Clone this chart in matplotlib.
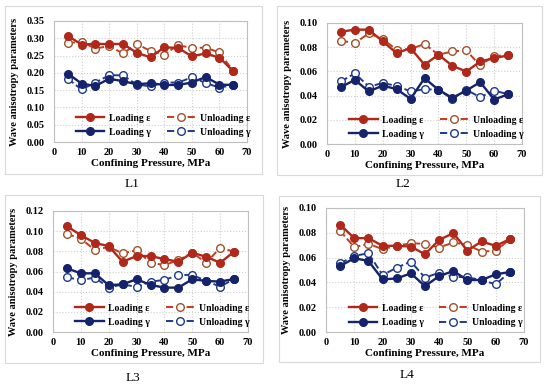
import matplotlib
matplotlib.use("Agg")
import matplotlib.pyplot as plt
from matplotlib.patches import Rectangle

plt.rcParams['font.family'] = ['Liberation Serif', 'DejaVu Serif']

pressure = [5, 10, 15, 20, 25, 30, 35, 40, 45, 50, 55, 60, 65]

L1_load_eps = [0.307, 0.282, 0.284, 0.283, 0.284, 0.258, 0.245, 0.274, 0.272, 0.248, 0.256, 0.244, 0.205]
L1_unload_eps = [0.286, 0.290, 0.270, 0.278, 0.256, 0.284, 0.263, 0.253, 0.280, 0.272, 0.273, 0.259, 0.205]
L1_load_gam = [0.198, 0.169, 0.162, 0.183, 0.176, 0.167, 0.170, 0.165, 0.165, 0.172, 0.188, 0.166, 0.165]
L1_unload_gam = [0.183, 0.152, 0.172, 0.193, 0.193, 0.166, 0.161, 0.172, 0.172, 0.187, 0.171, 0.157, 0.165]

L2_load_eps = [0.0928, 0.0945, 0.0945, 0.0848, 0.0751, 0.0793, 0.0655, 0.0738, 0.0646, 0.0599, 0.0682, 0.0710, 0.0732]
L2_unload_eps = [0.0854, 0.0834, 0.0914, 0.0867, 0.0779, 0.0785, 0.0826, 0.0738, 0.0765, 0.0773, 0.0649, 0.0729, 0.0732]
L2_load_gam = [0.0470, 0.0530, 0.0434, 0.0483, 0.0453, 0.0373, 0.0544, 0.0448, 0.0381, 0.0442, 0.0511, 0.0367, 0.0411]
L2_unload_gam = [0.0517, 0.0583, 0.0475, 0.0503, 0.0481, 0.0434, 0.0453, 0.0448, 0.0373, 0.0448, 0.0387, 0.0442, 0.0411]

L3_load_eps = [0.1049, 0.0960, 0.0884, 0.0851, 0.0697, 0.0753, 0.0753, 0.0723, 0.0697, 0.0786, 0.0746, 0.0687, 0.0796]
L3_unload_eps = [0.0973, 0.0927, 0.0812, 0.0845, 0.0779, 0.0812, 0.0687, 0.0664, 0.0713, 0.0786, 0.0687, 0.0835, 0.0796]
L3_load_gam = [0.0631, 0.0582, 0.0582, 0.0464, 0.0473, 0.0523, 0.0467, 0.0440, 0.0440, 0.0523, 0.0506, 0.0500, 0.0526]
L3_unload_gam = [0.0542, 0.0516, 0.0539, 0.0440, 0.0473, 0.0447, 0.0500, 0.0516, 0.0566, 0.0566, 0.0506, 0.0450, 0.0526]

L4_load_eps = [0.0865, 0.0757, 0.0757, 0.0695, 0.0695, 0.0689, 0.0627, 0.0743, 0.0797, 0.0657, 0.0730, 0.0695, 0.0749]
L4_unload_eps = [0.0816, 0.0684, 0.0711, 0.0668, 0.0695, 0.0716, 0.0711, 0.0681, 0.0722, 0.0703, 0.0649, 0.0654, 0.0749]
L4_load_gam = [0.0532, 0.0595, 0.0573, 0.0424, 0.0432, 0.0473, 0.0370, 0.0451, 0.0492, 0.0419, 0.0419, 0.0465, 0.0484]
L4_unload_gam = [0.0554, 0.0614, 0.0635, 0.0459, 0.0519, 0.0568, 0.0438, 0.0478, 0.0446, 0.0441, 0.0419, 0.0384, 0.0484]

panels = [
    ("L1", L1_load_eps, L1_unload_eps, L1_load_gam, L1_unload_gam, 0.35, 0.05),
    ("L2", L2_load_eps, L2_unload_eps, L2_load_gam, L2_unload_gam, 0.10, 0.02),
    ("L3", L3_load_eps, L3_unload_eps, L3_load_gam, L3_unload_gam, 0.12, 0.02),
    ("L4", L4_load_eps, L4_unload_eps, L4_load_gam, L4_unload_gam, 0.10, 0.02),
]

W, H = 550, 385
fig = plt.figure(figsize=(5.5, 3.85), dpi=100)

axes_px = [(54, 247, 21, 142), (327, 522, 23, 144), (53, 248, 211, 332), (326, 524, 208, 332)]
panel_px = [(5, 262, 6, 174), (277, 542, 6, 175), (5, 263, 195, 363), (279, 540, 196, 362)]
cap_px = [(132, 184), (403, 184), (133, 378), (407, 375)]

c_le = '#B0281A'
c_ue = '#C83A1E'
c_ue_edge = '#A0522D'
c_lg = '#14236B'
c_ug = '#1F3A8C'

for (name, le, ue, lg, ug, ymax, ystep), ap, pp, cp in zip(panels, axes_px, panel_px, cap_px):
    fig.patches.append(Rectangle((pp[0] / W, 1 - pp[3] / H), (pp[1] - pp[0]) / W, (pp[3] - pp[2]) / H,
                                 transform=fig.transFigure, fill=False, edgecolor='#D9D9D9', linewidth=0.8))
    ax = fig.add_axes([ap[0] / W, 1 - ap[3] / H, (ap[1] - ap[0]) / W, (ap[3] - ap[2]) / H])
    h1, = ax.plot(pressure, le, '-o', color=c_le, lw=1.7, ms=5.5, mfc=c_le, mec=c_le, label='Loading ε', zorder=4)
    h2, = ax.plot(pressure, ue, '--o', color=c_ue, lw=1.4, ms=5.5, mfc='white', mec=c_ue_edge, mew=1.0,
                  label='Unloading ε', zorder=3)
    h3, = ax.plot(pressure, lg, '-o', color=c_lg, lw=1.7, ms=5.5, mfc=c_lg, mec=c_lg, label='Loading γ', zorder=4)
    h4, = ax.plot(pressure, ug, '--o', color=c_ug, lw=1.4, ms=5.5, mfc='white', mec=c_ug, mew=1.0,
                  label='Unloading γ', zorder=3)
    ax.set_xlim(0, 70)
    ax.set_ylim(0, ymax)
    ax.set_xticks(range(0, 71, 10))
    nt = int(round(ymax / ystep))
    yt = [i * ystep for i in range(nt + 1)]
    ax.set_yticks(yt)
    ax.set_yticklabels([f"{v:.2f}" for v in yt])
    ax.grid(True, color='#D0D0D0', linestyle=':', linewidth=0.8)
    ax.set_axisbelow(True)
    for s in ax.spines.values():
        s.set_color('#BFBFBF')
        s.set_linewidth(0.8)
    ax.tick_params(axis='y', length=0, labelsize=7.5, pad=7)
    ax.tick_params(axis='x', length=0, labelsize=7.5, pad=4)
    for lab in ax.get_xticklabels() + ax.get_yticklabels():
        lab.set_fontweight('bold')
    ax.set_xlabel('Confining Pressure, MPa', fontsize=8, fontweight='bold', labelpad=2)
    ax.set_ylabel('Wave anisotropy parameters', fontsize=7.5, fontweight='bold', labelpad=5)
    ax.legend([h1, h3, h2, h4], ['Loading ε', 'Loading γ', 'Unloading ε', 'Unloading γ'],
              ncol=2, loc='lower left', bbox_to_anchor=(0.07, -0.03), frameon=False,
              handlelength=2.9, columnspacing=1.6, handletextpad=0.5,
              labelspacing=0.55, prop={'weight': 'bold', 'size': 7})
    fig.text(cp[0] / W, 1 - cp[1] / H, name, ha='center', va='center', fontsize=9.5)

fig.savefig('out.png', dpi=100)
